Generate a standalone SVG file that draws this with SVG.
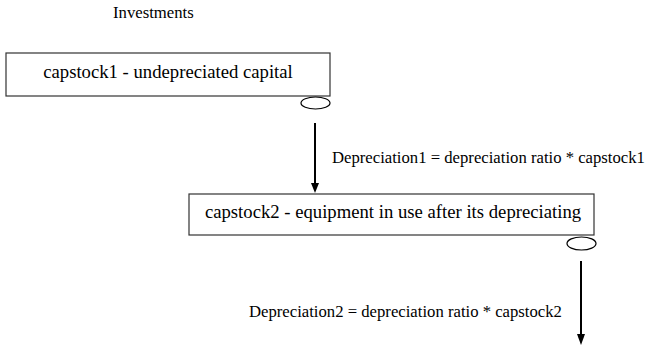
<svg xmlns="http://www.w3.org/2000/svg" width="646" height="345" viewBox="0 0 646 345">
<style>
text{font-family:'Liberation Serif','Times New Roman',Times,'DejaVu Serif',serif;fill:#000}
.lbl{font-size:16.7px}
.box{font-size:18.7px}
.node{fill:#fff;stroke:#333;stroke-width:1.2}
ellipse{fill:#fff;stroke:#000;stroke-width:1.2}
.flow{stroke:#000;stroke-width:2;fill:none}
</style>
<rect width="646" height="345" fill="#fff"/>
<text class="lbl" x="113" y="18">Investments</text>
<g id="capstock1">
<rect class="node" x="6" y="53" width="324" height="43"/>
<text class="box" x="168" y="78" text-anchor="middle">capstock1 - undepreciated capital</text>
<ellipse cx="315.5" cy="103" rx="14.5" ry="6"/>
</g>
<g id="capstock2">
<rect class="node" x="189" y="194" width="405" height="41"/>
<text class="box" x="393" y="218" text-anchor="middle">capstock2 - equipment in use after its depreciating</text>
<ellipse cx="581.5" cy="243.5" rx="14.5" ry="6.5"/>
</g>
<g id="connectors">
<line class="flow" x1="315" y1="123" x2="315" y2="183"/>
<path d="M311,183 L319,183 L315,193 Z" fill="#000"/>
<text class="lbl" x="332" y="163">Depreciation1 = depreciation ratio * capstock1</text>
<line class="flow" x1="581" y1="261" x2="581" y2="335"/>
<path d="M577,334 L585,334 L581,345 Z" fill="#000"/>
<text class="lbl" x="249" y="317">Depreciation2 = depreciation ratio * capstock2</text>
</g>
</svg>
